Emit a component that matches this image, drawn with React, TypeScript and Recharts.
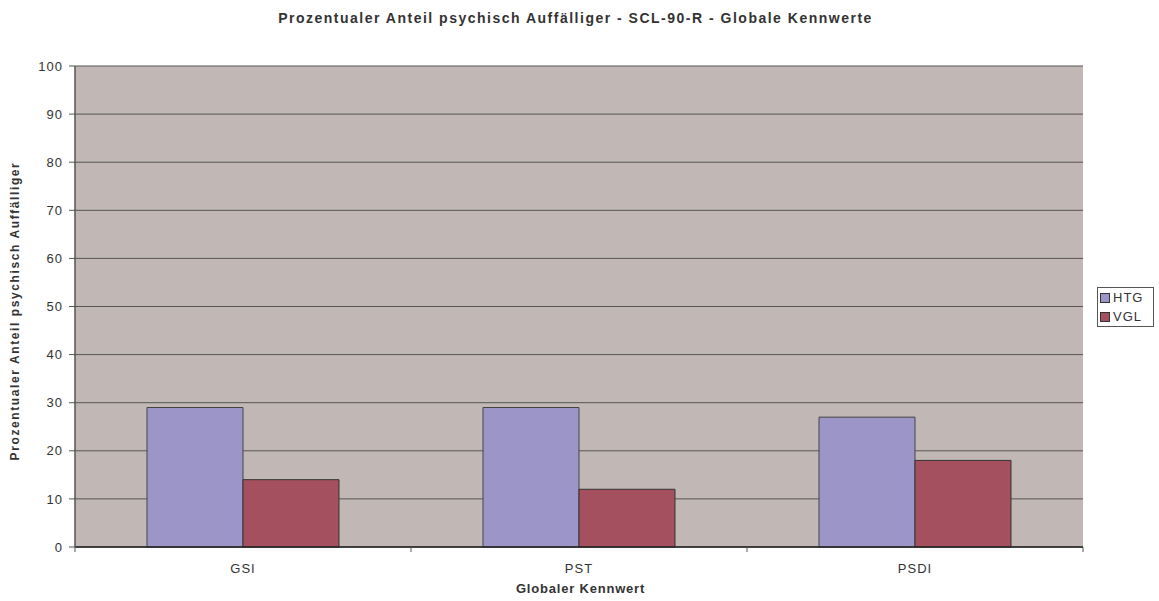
import { BarChart, Bar, XAxis, YAxis, CartesianGrid } from 'recharts';

const categories = ['GSI', 'PST', 'PSDI'];
const htg = [29, 29, 27];
const vgl = [14, 12, 18];
const yTicks = [0, 10, 20, 30, 40, 50, 60, 70, 80, 90, 100];

const data = categories.map((name, i) => ({ name, HTG: htg[i], VGL: vgl[i] }));

const FONT = '"Liberation Sans", Arial, sans-serif';
const HTG_COLOR = '#9c96c8';
const VGL_COLOR = '#a5505e';

function CategoryTick({ x, y, payload, index, visibleTicksCount }: any) {
  const half = payload.offset || 0;
  const last = index === visibleTicksCount - 1;
  return (
    <g>
      <line x1={x - half} y1={y} x2={x - half} y2={y + 5} stroke="#555" />
      {last && <line x1={x + half} y1={y} x2={x + half} y2={y + 5} stroke="#555" />}
      <text
        x={x}
        y={y + 26}
        textAnchor="middle"
        fill="#333"
        fontSize={13}
        fontFamily={FONT}
        letterSpacing={1}
      >
        {payload.value}
      </text>
    </g>
  );
}

function LegendBox() {
  const items = [
    { label: 'HTG', color: HTG_COLOR },
    { label: 'VGL', color: VGL_COLOR },
  ];
  return (
    <div
      style={{
        position: 'absolute',
        left: 1097,
        top: 287,
        border: '1px solid #555',
        background: '#fff',
        padding: '0 4px 0 2px',
        fontFamily: FONT,
        fontSize: 13,
        color: '#333',
        letterSpacing: 1,
        lineHeight: '19px',
        width: 49,
      }}
    >
      {items.map((it) => (
        <div key={it.label} style={{ display: 'flex', alignItems: 'center' }}>
          <span
            style={{
              display: 'inline-block',
              width: 8,
              height: 8,
              background: it.color,
              border: '1px solid #333',
              marginRight: 3,
            }}
          />
          {it.label}
        </div>
      ))}
    </div>
  );
}

export default function App() {
  return (
    <div style={{ position: 'relative', width: 1159, height: 601, background: '#fff' }}>
      <style>{'body{margin:0}'}</style>
      <div
        style={{
          position: 'absolute',
          top: 10,
          left: 0,
          width: 1151,
          textAlign: 'center',
          fontFamily: FONT,
          fontWeight: 'bold',
          fontSize: 14,
          color: '#333',
          letterSpacing: 1.5,
        }}
      >
        Prozentualer Anteil psychisch Auffälliger - SCL-90-R - Globale Kennwerte
      </div>
      <div
        style={{
          position: 'absolute',
          top: 581,
          left: 0,
          width: 1161,
          textAlign: 'center',
          fontFamily: FONT,
          fontWeight: 'bold',
          fontSize: 13,
          color: '#333',
          letterSpacing: 0.8,
        }}
      >
        Globaler Kennwert
      </div>
      <div
        style={{
          position: 'absolute',
          left: 15,
          top: 311,
          transform: 'translate(-50%, -50%) rotate(-90deg)',
          whiteSpace: 'nowrap',
          fontFamily: FONT,
          fontWeight: 'bold',
          fontSize: 12,
          color: '#333',
          letterSpacing: 1.6,
        }}
      >
        Prozentualer Anteil psychisch Auffälliger
      </div>
      <LegendBox />
      <BarChart
        width={1159}
        height={601}
        data={data}
        margin={{ top: 66, right: 76, bottom: 0, left: 0 }}
        barCategoryGap={72}
        barGap={0}
      >
        <CartesianGrid vertical={false} fill="#c1b8b5" stroke="#555" fillOpacity={1} />
        <XAxis
          dataKey="name"
          tick={<CategoryTick />}
          tickLine={false}
          tickSize={0}
          tickMargin={0}
          axisLine={{ stroke: '#222', strokeWidth: 1.5 }}
          height={54}
          interval={0}
        />
        <YAxis
          width={75}
          domain={[0, 100]}
          ticks={yTicks}
          interval={0}
          tickSize={6}
          tickMargin={6}
          tickLine={{ stroke: '#555' }}
          axisLine={{ stroke: '#555', strokeWidth: 1.5 }}
          tick={{ fill: '#333', fontSize: 13, fontFamily: FONT, letterSpacing: 1 }}
        />
        <YAxis
          yAxisId="right"
          orientation="right"
          width={0}
          domain={[0, 100]}
          tick={false}
          tickLine={false}
          axisLine={{ stroke: '#998f8f' }}
        />
        <Bar dataKey="HTG" fill={HTG_COLOR} stroke="#444" isAnimationActive={false} />
        <Bar dataKey="VGL" fill={VGL_COLOR} stroke="#333" isAnimationActive={false} />
      </BarChart>
    </div>
  );
}
